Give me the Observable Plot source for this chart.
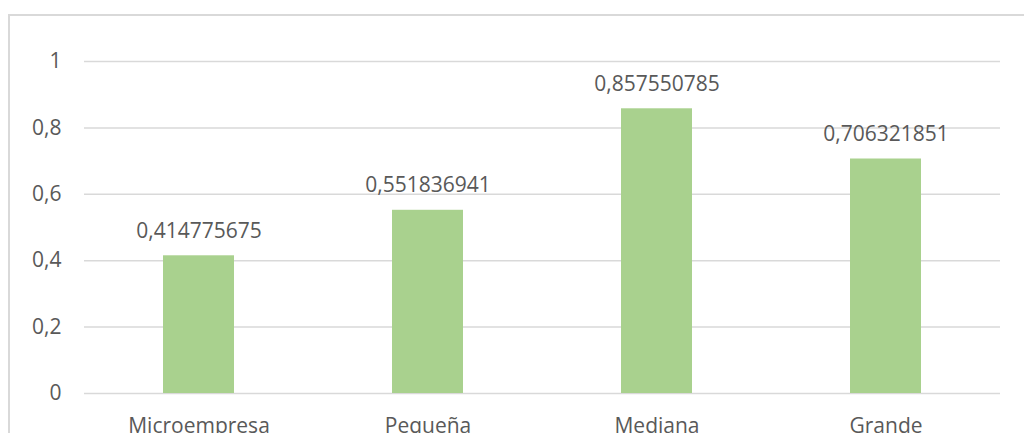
<!DOCTYPE html>
<html>
<head>
<meta charset="utf-8">
<script src="https://cdn.jsdelivr.net/npm/d3@7"></script>
<script src="https://cdn.jsdelivr.net/npm/@observablehq/plot@0.6"></script>
<style>
  html, body { margin: 0; padding: 0; background: #fff; overflow: hidden; }
  #wrap { position: relative; width: 1024px; height: 433px; }
  #border { position: absolute; left: 8px; top: 14px; width: 1100px; height: 600px;
            border-top: 2px solid #d9d9d9; border-left: 2px solid #d9d9d9; }
  #chart { position: absolute; left: 0; top: 0; }
</style>
</head>
<body>
<div id="wrap">
  <div id="border"></div>
  <div id="chart"></div>
</div>
<script>
const categories = ["Microempresa", "Pequeña", "Mediana", "Grande"];
const values = [0.414775675, 0.551836941, 0.857550785, 0.706321851];
const yTicks = [0, 0.2, 0.4, 0.6, 0.8, 1];

const data = categories.map((c, i) => ({category: c, value: values[i]}));
const comma = v => String(v).replace(".", ",");
const font = "'Open Sans', sans-serif";
const textColor = "#595959";

const chart = Plot.plot({
  width: 1024,
  height: 433,
  marginTop: 61,
  marginBottom: 40,
  marginLeft: 84,
  marginRight: 24,
  style: {fontFamily: font, fontSize: "21px", color: textColor, background: "transparent", overflow: "visible"},
  x: {domain: categories, paddingInner: 0.69, paddingOuter: 0.345, label: null},
  y: {domain: [0, 1], label: null},
  marks: [
    Plot.ruleY(yTicks, {stroke: "#d9d9d9", strokeWidth: 1.5}),
    Plot.barY(data, {x: "category", y: "value", fill: "#a9d18e"}),
    Plot.text(data, {
      x: "category", y: "value", text: d => comma(d.value),
      lineAnchor: "bottom", dy: -18, fill: textColor, fontSize: 21
    }),
    Plot.axisY({ticks: yTicks, tickFormat: comma, tickSize: 0, tickPadding: 23,
                fill: textColor, fontSize: 21, label: null}),
    Plot.axisX({tickSize: 0, tickPadding: 25, fill: textColor, fontSize: 21, label: null})
  ]
});
document.getElementById("chart").appendChild(chart);
</script>
</body>
</html>
